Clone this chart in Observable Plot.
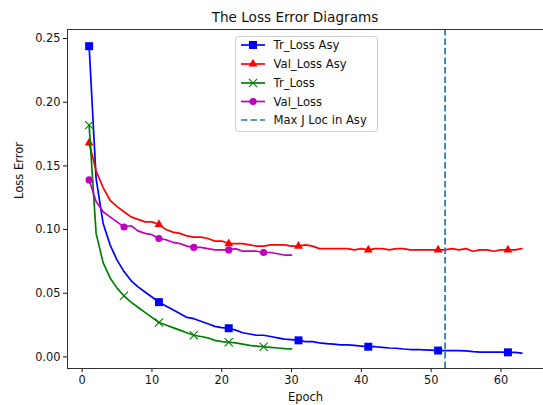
<!DOCTYPE html>
<html><head><meta charset="utf-8">
<script src="https://cdn.jsdelivr.net/npm/d3@7"></script>
<script src="https://cdn.jsdelivr.net/npm/@observablehq/plot@0.6"></script>
<style>
body{margin:0;background:#fff;font-family:"DejaVu Sans",sans-serif;}
#wrap{position:relative;width:543px;height:405px;overflow:hidden;background:#fff;}
#title{position:absolute;left:0;top:9px;width:590px;text-align:center;font-size:13.6px;line-height:16px;color:#111;white-space:nowrap;}
#chart{position:absolute;left:0;top:28px;}
#legend{position:absolute;left:0;top:0;pointer-events:none;}
</style></head>
<body>
<div id="wrap">
  <div id="title">The Loss Error Diagrams</div>
  <div id="chart"></div>
  <svg id="legend" width="543" height="405"></svg>
</div>
<script>
const seriesNames = ["Tr_Loss Asy", "Val_Loss Asy", "Tr_Loss", "Val_Loss"];
const maxJLabel = "Max J Loc in Asy";
const maxJLoc = 52;
const xTicks = [0, 10, 20, 30, 40, 50, 60];
const yTicks = [0, 0.05, 0.10, 0.15, 0.20, 0.25];

const trLossAsy = [0.244, 0.140, 0.105, 0.088, 0.076, 0.067, 0.060, 0.055, 0.051, 0.047,
  0.043, 0.040, 0.037, 0.034, 0.031, 0.030, 0.028, 0.026, 0.024, 0.023,
  0.0225, 0.021, 0.019, 0.018, 0.017, 0.017, 0.016, 0.015, 0.014, 0.0135,
  0.013, 0.012, 0.012, 0.011, 0.0105, 0.010, 0.0095, 0.0095, 0.009, 0.0085,
  0.008, 0.008, 0.0075, 0.007, 0.0068, 0.0062, 0.0058, 0.0058, 0.0056, 0.0053,
  0.005, 0.005, 0.005, 0.005, 0.0048, 0.0042, 0.0038, 0.0037, 0.0037, 0.0037,
  0.0036, 0.0035, 0.003];
const valLossAsy = [0.168, 0.146, 0.133, 0.123, 0.118, 0.114, 0.110, 0.108, 0.106, 0.106,
  0.104, 0.100, 0.098, 0.097, 0.095, 0.094, 0.094, 0.093, 0.091, 0.091,
  0.089, 0.089, 0.089, 0.088, 0.087, 0.087, 0.088, 0.088, 0.088, 0.087,
  0.087, 0.088, 0.087, 0.085, 0.085, 0.085, 0.085, 0.085, 0.084, 0.085,
  0.084, 0.085, 0.085, 0.084, 0.085, 0.085, 0.084, 0.084, 0.084, 0.084,
  0.084, 0.084, 0.085, 0.084, 0.085, 0.083, 0.084, 0.084, 0.083, 0.084,
  0.084, 0.084, 0.085];
const trLoss = [0.182, 0.097, 0.074, 0.062, 0.054, 0.048, 0.043, 0.039, 0.035, 0.031,
  0.027, 0.025, 0.023, 0.021, 0.019, 0.017, 0.016, 0.015, 0.013, 0.012,
  0.0115, 0.011, 0.010, 0.009, 0.0085, 0.008, 0.0075, 0.007, 0.0065, 0.0063];
const valLoss = [0.139, 0.122, 0.114, 0.110, 0.106, 0.102, 0.103, 0.099, 0.097, 0.096,
  0.093, 0.092, 0.090, 0.089, 0.087, 0.086, 0.086, 0.085, 0.084, 0.084,
  0.084, 0.085, 0.083, 0.083, 0.083, 0.082, 0.082, 0.081, 0.080, 0.080];

const colors = ["#0000ff", "#ff0000", "#008000", "#bf00bf"];
const symbols = ["square", "triangle", "times", "circle"];
const radii = [4.5, 3.3, 3.8, 3.6];
const markEvery = [10, 10, 5, 5];
const allValues = [trLossAsy, valLossAsy, trLoss, valLoss];

const xDomain = [-2.1, 66.1];
const yDomain = [-0.0091, 0.2571];
const axisColor = "#333";

const marks = [];
allValues.forEach((vals, s) => {
  const rows = vals.map((v, i) => ({epoch: i + 1, value: v, i}));
  marks.push(Plot.line(rows, {x: "epoch", y: "value", stroke: colors[s], strokeWidth: 1.7}));
  const mrows = rows.filter(d => d.i % markEvery[s] === 0);
  if (symbols[s] === "times") {
    marks.push(Plot.dot(mrows, {x: "epoch", y: "value", symbol: "times", r: radii[s], stroke: colors[s], strokeWidth: 1.1}));
  } else {
    marks.push(Plot.dot(mrows, {x: "epoch", y: "value", symbol: symbols[s], r: radii[s], fill: colors[s], stroke: "none"}));
  }
});
marks.push(Plot.ruleX([maxJLoc], {stroke: "#1f77b4", strokeWidth: 1.7, strokeDasharray: "6.5,3"}));
marks.push(Plot.ruleX([xDomain[0]], {stroke: axisColor, strokeWidth: 1}));
marks.push(Plot.ruleY([yDomain[0], yDomain[1]], {stroke: axisColor, strokeWidth: 1}));
marks.push(Plot.text(["Epoch"], {frameAnchor: "bottom", dy: 32, fontSize: 11.5, fill: "#111"}));
marks.push(Plot.text(["Loss Error"], {frameAnchor: "left", dx: -48, rotate: -90, fontSize: 11.5, fill: "#111"}));

const chart = Plot.plot({
  width: 543, height: 377,
  marginLeft: 67, marginRight: 0, marginTop: 1, marginBottom: 37,
  style: {fontFamily: "DejaVu Sans", fontSize: "11.4px", color: "#111", background: "white", overflow: "visible"},
  x: {domain: xDomain, ticks: xTicks, tickSize: 4, tickPadding: 3, label: null, tickFormat: d3.format("d")},
  y: {domain: yDomain, ticks: yTicks, tickSize: 4, tickPadding: 3, label: null, tickFormat: d3.format(".2f")},
  marks
});
document.getElementById("chart").appendChild(chart);

// legend overlay
const lg = d3.select("#legend");
lg.append("rect").attr("x", 235.5).attr("y", 36.5).attr("width", 142).attr("height", 95)
  .attr("rx", 3).attr("fill", "rgba(255,255,255,0.8)").attr("stroke", "#cccccc").attr("stroke-width", 1);
const rowY = [45, 64, 83, 101.5, 120];
const labels = [...seriesNames, maxJLabel];
const symMap = {square: d3.symbolSquare, triangle: d3.symbolTriangle, times: d3.symbolTimes, circle: d3.symbolCircle};
labels.forEach((lab, k) => {
  const y = rowY[k];
  if (k < 4) {
    lg.append("line").attr("x1", 241).attr("x2", 265).attr("y1", y).attr("y2", y)
      .attr("stroke", colors[k]).attr("stroke-width", 1.7);
    const p = d3.symbol(symMap[symbols[k]], radii[k] * radii[k] * Math.PI)();
    const sym = lg.append("path").attr("d", p).attr("transform", `translate(253,${y})`);
    if (symbols[k] === "times") sym.attr("fill", "none").attr("stroke", colors[k]).attr("stroke-width", 1.1);
    else sym.attr("fill", colors[k]);
  } else {
    lg.append("line").attr("x1", 241).attr("x2", 265).attr("y1", y).attr("y2", y)
      .attr("stroke", "#1f77b4").attr("stroke-width", 1.7).attr("stroke-dasharray", "6.5,3");
  }
  lg.append("text").attr("x", 273.5).attr("y", y).attr("dy", "0.35em")
    .attr("font-family", "DejaVu Sans").attr("font-size", 11.6).attr("fill", "#111").text(lab);
});
</script>
</body></html>
